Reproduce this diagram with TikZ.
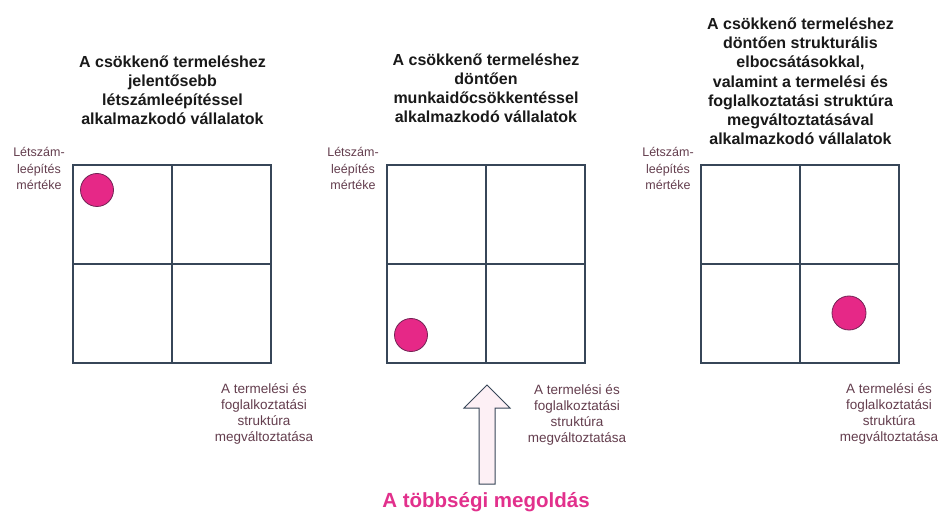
\documentclass[tikz,border=0pt]{standalone}
\usepackage{fontspec}
\setmainfont{Liberation Sans}
\usepackage{xcolor}
\usepackage{tikz}

\definecolor{gridline}{RGB}{55,70,88}
\definecolor{dotpink}{RGB}{230,40,135}
\definecolor{dotrim}{RGB}{115,35,85}
\definecolor{axistext}{RGB}{100,62,78}
\definecolor{mainpink}{RGB}{226,48,140}
\definecolor{arrowfill}{RGB}{253,240,245}

\begin{document}
\begin{tikzpicture}[x=1pt, y=-1pt,
    quad/.style={draw=gridline, line width=1.1pt},
    dot/.style={fill=dotpink, draw=dotrim, line width=0.8pt},
    title/.style={align=center, anchor=base, inner sep=0pt, text=black!90,
        font=\bfseries\fontsize{16}{19.3}\selectfont},
    ylabel/.style={align=center, anchor=base, inner sep=0pt, text=axistext,
        font=\fontsize{12.5}{16.5}\selectfont},
    xlabel/.style={align=center, anchor=base, inner sep=0pt, text=axistext,
        font=\fontsize{13.5}{16}\selectfont}]
    \useasboundingbox[fill=white] (0,0) rectangle (942,518);

    % first panel
    \node[title] (title1) at (172.5,125) {A csökkenő termeléshez\\jelentősebb\\létszámleépítéssel\\alkalmazkodó vállalatok};
    \node[ylabel] (ylab1) at (39,190) {Létszám-\\leépítés\\mértéke};
    \node[xlabel] (xlab1) at (264,441.5) {A termelési és\\foglalkoztatási\\struktúra\\megváltoztatása};
    \draw[quad] (73,165) rectangle (271,363);
    \draw[quad] (172,165) -- (172,363); % vertical
    \draw[quad] (73,264) -- (271,264); % horizontal
    \draw[dot] (97,190) circle (16.5pt); % top left

    % second panel
    \node[title] (title2) at (486,123) {A csökkenő termeléshez\\döntően\\munkaidőcsökkentéssel\\alkalmazkodó vállalatok};
    \node[ylabel] (ylab2) at (353,190) {Létszám-\\leépítés\\mértéke};
    \node[xlabel] (xlab2) at (577,442) {A termelési és\\foglalkoztatási\\struktúra\\megváltoztatása};
    \draw[quad] (387,165) rectangle (585,363);
    \draw[quad] (486,165) -- (486,363); % vertical
    \draw[quad] (387,264) -- (585,264); % horizontal
    \draw[dot] (411,335) circle (16.5pt); % bottom left

    % third panel
    \node[title] (title3) at (800.5,145) {A csökkenő termeléshez\\döntően strukturális\\elbocsátásokkal,\\valamint a termelési és\\foglalkoztatási struktúra\\megváltoztatásával\\alkalmazkodó vállalatok};
    \node[ylabel] (ylab3) at (668,190) {Létszám-\\leépítés\\mértéke};
    \node[xlabel] (xlab3) at (889,441.5) {A termelési és\\foglalkoztatási\\struktúra\\megváltoztatása};
    \draw[quad] (701,165) rectangle (899,363);
    \draw[quad] (800,165) -- (800,363); % vertical
    \draw[quad] (701,264) -- (899,264); % horizontal
    \draw[dot] (849,313) circle (17pt); % bottom right

    % block arrow and caption
    \draw[draw=gridline, line width=1pt, fill=arrowfill, line join=miter]
        (479,484) -- (479,408) -- (464,408) -- (487,385) -- (510,408)
        -- (495,408) -- (495,484) -- cycle;
    \node[anchor=base, inner sep=0pt, text=mainpink,
        font=\bfseries\fontsize{20.5}{24}\selectfont] (major) at (486,507) {A többségi megoldás};
\end{tikzpicture}
\end{document}
